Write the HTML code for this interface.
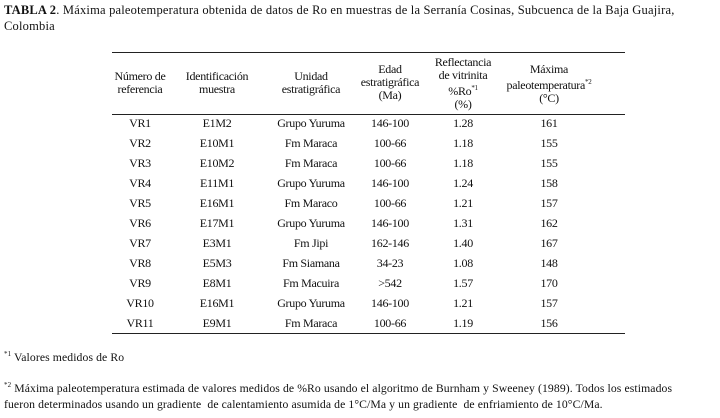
<!DOCTYPE html>
<html><head><meta charset="utf-8"><style>
body{margin:0;width:720px;height:418px;background:#fff;font-family:"Liberation Serif",serif;color:#111;position:relative;overflow:hidden}
.t{position:absolute;font-size:12.5px;white-space:nowrap}
.title{left:4px;top:2px;line-height:16px;font-size:12.5px;width:690px;white-space:normal;letter-spacing:0.2px}
.line{position:absolute;left:112px;width:513px;border-top:1px solid #222}
.c{position:absolute;transform:translateX(-50%);text-align:center;font-size:12px;line-height:13px;white-space:nowrap;letter-spacing:-0.3px}
sup{font-size:7px}
.fn{position:absolute;left:4px;font-size:11.7px;line-height:16px;width:680px;letter-spacing:0.1px}
</style></head><body>
<div class="t title"><b>TABLA 2</b>. Máxima paleotemperatura obtenida de datos de Ro en muestras de la Serranía Cosinas, Subcuenca de la Baja Guajira, Colombia</div>
<div class="line" style="top:52px"></div>
<div class="line" style="top:114px"></div>
<div class="line" style="top:333px"></div>
<div class="c" style="left:140px;top:70px">Número de<br>referencia</div>
<div class="c" style="left:217px;top:70px">Identificación<br>muestra</div>
<div class="c" style="left:311px;top:70px">Unidad<br>estratigráfica</div>
<div class="c" style="left:390px;top:63px">Edad<br>estratigráfica<br>(Ma)</div>
<div class="c" style="left:463px;top:56px">Reflectancia<br>de vitrinita<br>%Ro<sup>*1</sup><br>(%)</div>
<div class="c" style="left:549px;top:63px">Máxima<br>paleotemperatura<sup>*2</sup><br>(°C)</div>
<div id="rows"></div>
<div class="fn" style="top:346px"><sup>*1</sup> Valores medidos de Ro</div>
<div class="fn" style="top:377px"><sup>*2</sup> Máxima paleotemperatura estimada de valores medidos de %Ro usando el algoritmo de Burnham y Sweeney (1989). Todos los estimados fueron determinados usando un gradiente &nbsp;de calentamiento asumida de 1°C/Ma y un gradiente &nbsp;de enfriamiento de 10°C/Ma.</div>
<script>
const ids=["VR1","VR2","VR3","VR4","VR5","VR6","VR7","VR8","VR9","VR10","VR11"];
const muestras=["E1M2","E10M1","E10M2","E11M1","E16M1","E17M1","E3M1","E5M3","E8M1","E16M1","E9M1"];
const unidades=["Grupo Yuruma","Fm Maraca","Fm Maraca","Grupo Yuruma","Fm Maraco","Grupo Yuruma","Fm Jipi","Fm Siamana","Fm Macuira","Grupo Yuruma","Fm Maraca"];
const edades=["146-100","100-66","100-66","146-100","100-66","146-100","162-146","34-23",">542","146-100","100-66"];
const ro=["1.28","1.18","1.18","1.24","1.21","1.31","1.40","1.08","1.57","1.21","1.19"];
const temps=[161,155,155,158,157,162,167,148,170,157,156];
const cols=[140,217,311,390,463,549];
const host=document.getElementById('rows');
for(let i=0;i<ids.length;i++){
  const vals=[ids[i],muestras[i],unidades[i],edades[i],ro[i],String(temps[i])];
  for(let j=0;j<6;j++){
    const d=document.createElement('div');
    d.className='c';
    d.style.left=cols[j]+'px';
    d.style.top=(117+i*20)+'px';
    d.textContent=vals[j];
    
    
    host.appendChild(d);
  }
}
</script>
</body></html>
